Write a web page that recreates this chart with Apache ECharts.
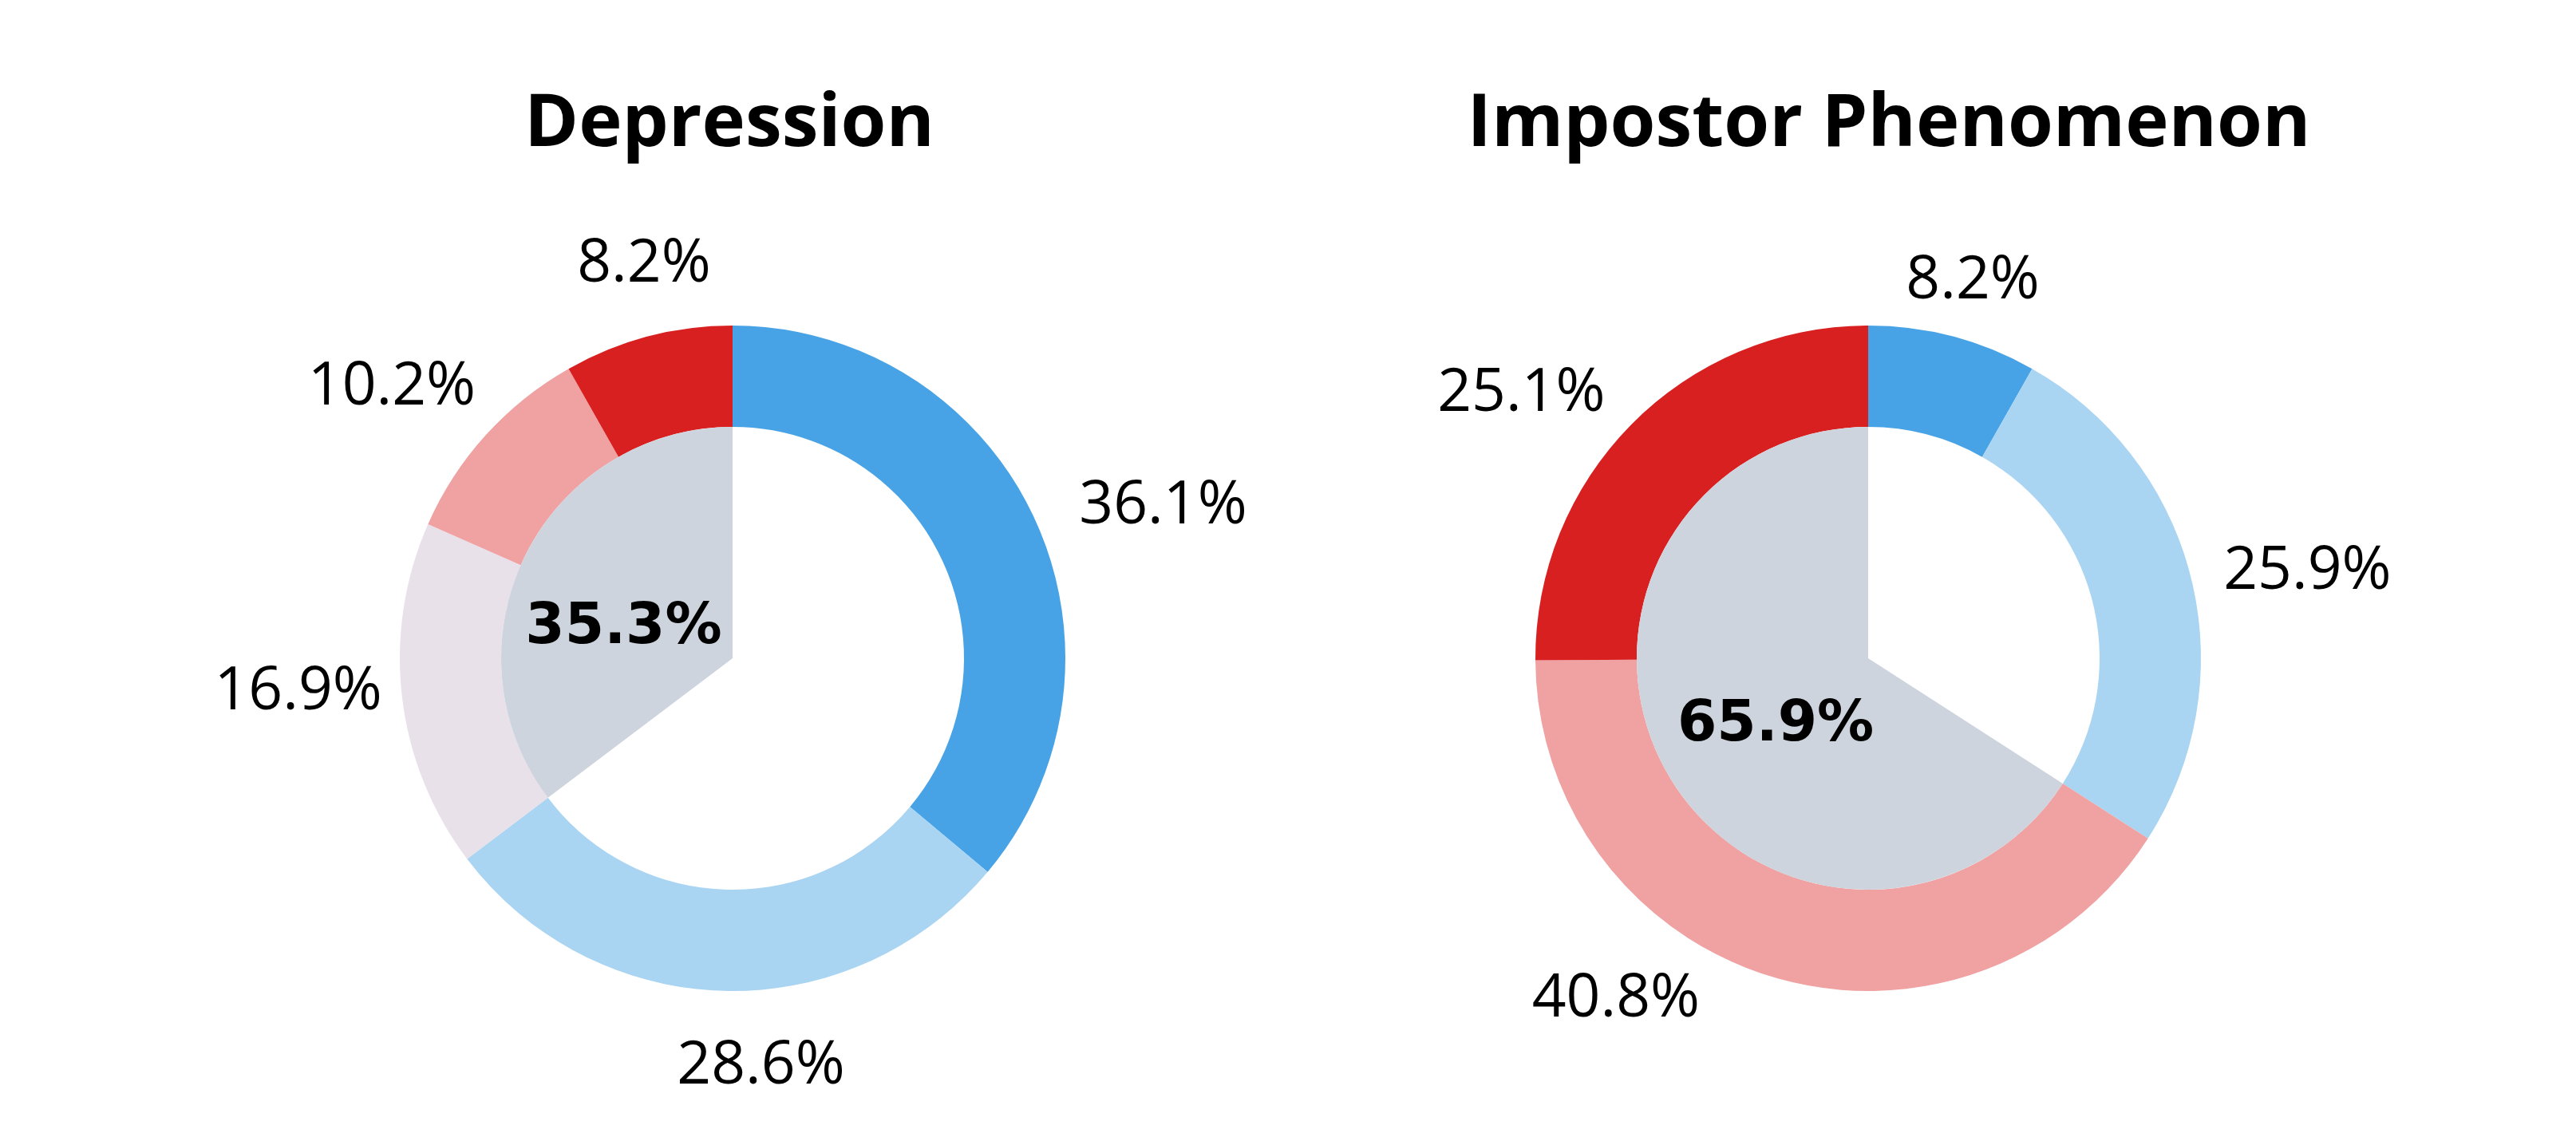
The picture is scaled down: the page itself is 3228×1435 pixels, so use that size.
<!DOCTYPE html>
<html>
<head>
<meta charset="utf-8">
<script src="https://cdn.jsdelivr.net/npm/echarts@6/dist/echarts.min.js"></script>
<style>html,body{margin:0;padding:0;background:#fff}#c{width:3228px;height:1435px}</style>
</head>
<body>
<div id="c"></div>
<script>
// ---- data ----
const titles = ['Depression', 'Impostor Phenomenon'];
const depLabels = ['Level A', 'Level B', 'Level C', 'Level D', 'Level E'];
const depValues = [36.1, 28.6, 16.9, 10.2, 8.2];
const depColors = ['#47A3E5', '#A9D4F2', '#E8E1EA', '#F0A1A2', '#D92021'];
const depCenterValue = 35.3;
const impLabels = ['Level A', 'Level B', 'Level C', 'Level D'];
const impValues = [8.2, 25.9, 40.8, 25.1];
const impColors = ['#47A3E5', '#A9D4F2', '#F0A1A2', '#D92021'];
const impCenterValue = 65.9;
// label nudges (px) relative to library placement
const depNudgeX = [52, 49, -10, -28, 26];
const depNudgeY = [37, -26, -20, 21, 27];
const impNudgeX = [-6, 28, -166, -53];
const impNudgeY = [48, 21, -89, 48];
const centerNudgeX = [-4, 14];
const centerNudgeY = [29, 14];

const chart = echarts.init(document.getElementById('c'), null, {renderer: 'canvas'});
const R0 = 290, R1 = 417;
const centers = [[918, 825], [2341, 825]];
const titleX = [909, 2362];

function build(ci, names, values, colors, centerValue, nx, ny) {
  const c = centers[ci];
  const ring = {
    type: 'pie', center: c, radius: [R0, R1], startAngle: 90, clockwise: true,
    silent: true, avoidLabelOverlap: false, label: {show: false}, labelLine: {show: false},
    data: values.map((v, i) => ({name: names[i], value: v, itemStyle: {color: colors[i]}}))
  };
  const labelRing = {
    type: 'pie', center: c, radius: [460, 610], startAngle: 90, clockwise: true,
    silent: true, avoidLabelOverlap: false, labelLine: {show: false},
    itemStyle: {color: 'rgba(0,0,0,0)'},
    label: {show: true, position: 'inside', formatter: p => p.value.toFixed(1) + '%',
      fontFamily: 'Open Sans', fontSize: 75, color: '#000'},
    labelLayout: p => ({dx: nx[p.dataIndex], dy: ny[p.dataIndex]}),
    data: values.map((v, i) => ({name: names[i], value: v}))
  };
  const inner = {
    type: 'pie', center: c, radius: [0, R0], startAngle: 90, clockwise: false,
    silent: true, avoidLabelOverlap: false, labelLine: {show: false},
    labelLayout: p => (p.dataIndex === 0 ? {dx: centerNudgeX[ci], dy: centerNudgeY[ci]} : {}),
    data: [
      {name: 'center', value: centerValue, itemStyle: {color: '#CDD4DD'},
        label: {show: true, position: 'inside', formatter: p => p.value.toFixed(1) + '%',
          fontFamily: 'DejaVu Sans', fontWeight: 'bold', fontSize: 71, color: '#000'}},
      {name: 'rest', value: +(100 - centerValue).toFixed(1), itemStyle: {color: 'rgba(0,0,0,0)'}, label: {show: false}}
    ]
  };
  return [ring, labelRing, inner];
}

const option = {
  animation: false,
  backgroundColor: '#fff',
  title: titles.map((t, i) => ({
    text: t, left: titleX[i], top: 106, textAlign: 'center',
    textStyle: {fontFamily: 'Open Sans', fontWeight: 'bold', fontSize: 92, color: '#000'}
  })),
  series: [
    ...build(0, depLabels, depValues, depColors, depCenterValue, depNudgeX, depNudgeY),
    ...build(1, impLabels, impValues, impColors, impCenterValue, impNudgeX, impNudgeY)
  ]
};
chart.setOption(option);
</script>
</body>
</html>
